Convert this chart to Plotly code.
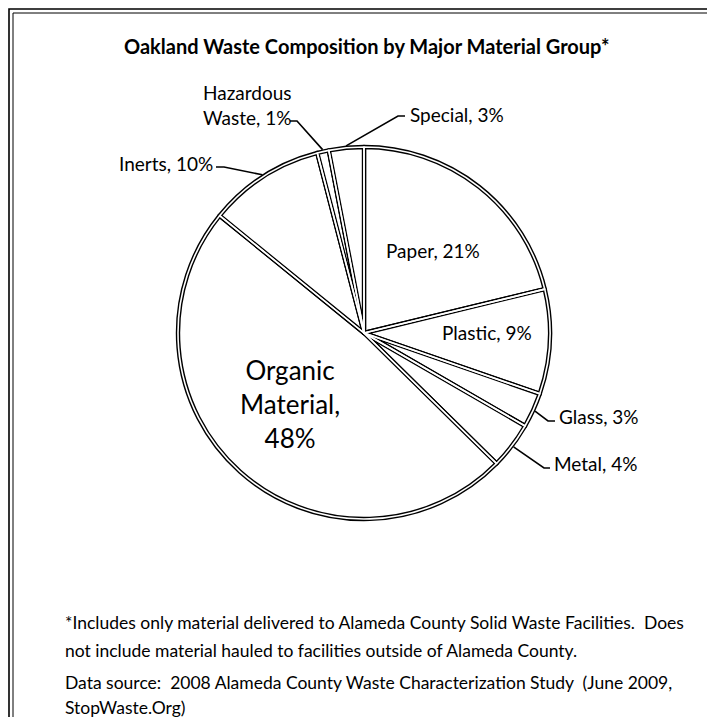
import math
import plotly.graph_objects as go

# ---- data ----
categories = ["Paper", "Plastic", "Glass", "Metal", "Organic Material",
              "Inerts", "Hazardous Waste", "Special"]
values = [21, 9, 3, 4, 48, 10, 1, 3]
label_texts = ["Paper, 21%", "Plastic, 9%", "Glass, 3%", "Metal, 4%",
               "Organic<br>Material,<br>48%", "Inerts, 10%",
               "Hazardous<br>Waste, 1%", "Special, 3%"]
title_text = "Oakland Waste Composition by Major Material Group*"
footnote_lines = [
    "*Includes only material delivered to Alameda County Solid Waste Facilities.  Does",
    "not include material hauled to facilities outside of Alameda County.",
    "Data source:  2008 Alameda County Waste Characterization Study  (June 2009,",
    "StopWaste.Org)",
]

# ---- layout constants (pixels, page coordinates) ----
PAGE_W, PAGE_H = 715, 717
OFF = 8                      # browser body margin
W, H = PAGE_W - OFF, PAGE_H - OFF
CX, CY, R = 364, 333, 186
FONT = "Lato"

fig = go.Figure()

dom_x = [(CX - R - OFF) / W, (CX + R - OFF) / W]
dom_y = [(PAGE_H - CY - R) / H, (PAGE_H - CY + R) / H]

common = dict(labels=categories, values=values, sort=False, direction="clockwise",
              rotation=0, textinfo="none", hoverinfo="label+percent",
              domain=dict(x=dom_x, y=dom_y), showlegend=False)
fig.add_trace(go.Pie(marker=dict(colors=["white"] * len(values),
                                 line=dict(color="black", width=4.4)), **common))
fig.add_trace(go.Pie(marker=dict(colors=["rgba(0,0,0,0)"] * len(values),
                                 line=dict(color="white", width=1.6)), **common))

# slice mid-angles (degrees clockwise from top) derived from data
total = sum(values)
mid = {}
acc = 0
for c, v in zip(categories, values):
    mid[c] = (acc + v / 2) / total * 360
    acc += v


def edge_point(cat, extra=2):
    a = math.radians(mid[cat])
    return CX + (R + extra) * math.sin(a), CY - (R + extra) * math.cos(a)


shapes = []
leaders = [
    ("Hazardous Waste", (297, 121), (290, 121)),
    ("Special", (398, 116), (405, 116)),
    ("Inerts", (224, 167), (216, 167)),
    ("Glass", (548, 421), (555, 421)),
    ("Metal", (544, 468), (550, 468)),
]
for cat, elbow, end in leaders:
    px, py = edge_point(cat)
    shapes.append(dict(type="path", xref="x", yref="y",
                       path=f"M {px:.1f} {py:.1f} L {elbow[0]} {elbow[1]} L {end[0]} {end[1]}",
                       line=dict(color="black", width=1.6)))

# frame
shapes.append(dict(type="path", xref="x", yref="y", path="M 9 717 L 9 9 L 712 9 L 712 717",
                   line=dict(color="black", width=1.6)))
shapes.append(dict(type="path", xref="x", yref="y", path="M 13 717 L 13 13 L 712 13",
                   line=dict(color="black", width=1)))

annotations = []
annotations.append(dict(x=366, y=46, text="<b>" + title_text + "</b>", showarrow=False,
                        xref="x", yref="y", font=dict(size=20, family=FONT, color="black")))

lab = dict(zip(categories, label_texts))
LS = 19
annotations.append(dict(x=433, y=250, text=lab["Paper"], showarrow=False, xref="x", yref="y",
                        font=dict(size=LS, family=FONT, color="black")))
annotations.append(dict(x=487, y=332, text=lab["Plastic"], showarrow=False, xref="x", yref="y",
                        font=dict(size=LS, family=FONT, color="black")))
annotations.append(dict(x=290, y=404, text=lab["Organic Material"], showarrow=False,
                        xref="x", yref="y", font=dict(size=26, family=FONT, color="black")))
annotations.append(dict(x=201, y=105, text=lab["Hazardous Waste"], showarrow=False, xref="x",
                        yref="y", xanchor="left", align="left",
                        font=dict(size=LS, family=FONT, color="black")))
annotations.append(dict(x=408, y=114, text=lab["Special"], showarrow=False, xref="x", yref="y",
                        xanchor="left", font=dict(size=LS, family=FONT, color="black")))
annotations.append(dict(x=215, y=163, text=lab["Inerts"], showarrow=False, xref="x", yref="y",
                        xanchor="right", font=dict(size=LS, family=FONT, color="black")))
annotations.append(dict(x=557, y=416, text=lab["Glass"], showarrow=False, xref="x", yref="y",
                        xanchor="left", font=dict(size=LS, family=FONT, color="black")))
annotations.append(dict(x=552, y=463, text=lab["Metal"], showarrow=False, xref="x", yref="y",
                        xanchor="left", font=dict(size=LS, family=FONT, color="black")))

foot_y = [622, 650, 682, 707]
for t, y in zip(footnote_lines, foot_y):
    annotations.append(dict(x=63, y=y, text=t, showarrow=False, xref="x", yref="y",
                            xanchor="left", font=dict(size=17.5, family=FONT, color="black")))

fig.update_layout(
    width=W, height=H, margin=dict(l=0, r=0, t=0, b=0),
    paper_bgcolor="white", plot_bgcolor="white",
    xaxis=dict(range=[OFF, PAGE_W], visible=False, fixedrange=True, domain=[0, 1]),
    yaxis=dict(range=[PAGE_H, OFF], visible=False, fixedrange=True, domain=[0, 1]),
    shapes=shapes, annotations=annotations,
)
fig.write_html("out.html")
